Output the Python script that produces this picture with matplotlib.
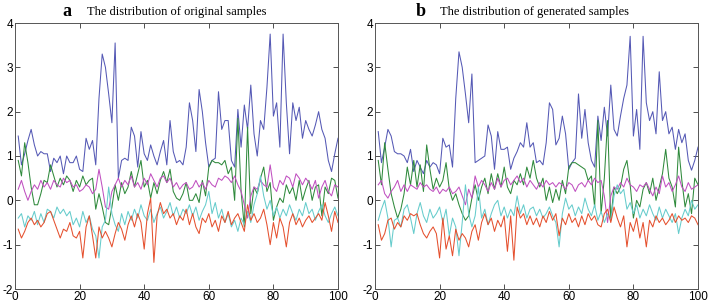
import matplotlib
matplotlib.use("Agg")
import matplotlib.pyplot as plt
import numpy as np

plt.rcParams['axes.unicode_minus'] = False

# x positions (sample index)
x = np.arange(1, 101)

# ---- panel a: original samples ----
blue_a = [1.45, 0.8, 1.05, 1.35, 1.6, 1.25, 1.0, 1.1, 1.05, 1.05,
          0.65, 0.95, 0.85, 1.0, 0.6, 1.0, 0.85, 0.85, 1.0, 0.7,
          0.65, 1.4, 1.15, 1.35, 0.8, 2.3, 3.3, 3.0, 2.4, 1.75,
          3.55, 0.5, 0.9, 0.95, 0.9, 1.65, 1.45, 0.75, 1.55, 1.05,
          0.9, 1.25, 1.0, 0.8, 1.1, 1.35, 0.8, 1.8, 1.1, 0.85,
          0.9, 0.8, 1.2, 2.2, 1.8, 1.1, 2.5, 2.0, 1.3, 0.75,
          0.9, 0.95, 2.45, 1.6, 1.8, 1.8, 0.9, 0.75, 2.05, 1.2,
          2.15, 1.6, 2.6, 1.5, 1.0, 1.8, 1.6, 2.55, 3.75, 1.9,
          2.2, 1.2, 3.75, 2.2, 1.05, 2.2, 1.8, 2.1, 1.4, 1.8,
          1.6, 1.45, 1.7, 2.0, 1.6, 1.4, 0.9, 0.65, 1.05, 1.4]
green_a = [0.9, 0.55, 1.3, 0.85, 0.3, -0.1, -0.1, 0.15, 0.45, 0.4,
           0.8, 0.55, 0.3, 0.5, 0.35, 0.55, 0.45, 0.2, 0.45, 0.3,
           0.55, 0.35, 0.45, 0.5, -0.2, 0.15, -0.15, -0.5, -0.55, -0.15,
           0.35, 0.0, 0.4, 0.15, 0.3, 0.65, 0.3, 0.6, 0.9, 0.3,
           0.45, 0.05, 0.4, 0.15, 0.45, 0.65, 0.4, 0.7, 0.2, 0.05,
           0.0, 0.15, 0.4, 0.0, 0.0, 0.15, -0.05, 0.45, 0.1, 0.75,
           0.9, 0.85, 0.85, 0.8, 0.9, 0.6, 0.75, 0.0, 1.85, 0.2,
           -0.6, 1.65, -0.3, 0.3, 0.15, 0.5, 0.75, 0.2, 0.4, -0.45,
           -0.15, 0.05, -0.05, 0.35, 0.15, 0.3, 0.0, 0.45, 0.0, 0.25,
           0.45, 0.0, 0.3, 0.35, -0.35, 0.3, 0.15, 0.5, 0.45, 0.05]
magenta_a = [0.25, 0.45, 0.2, 0.0, 0.2, 0.35, 0.25, 0.45, 0.3, 0.4,
             0.25, 0.45, 0.35, 0.3, 0.5, 0.4, 0.45, 0.3, 0.35, 0.2,
             0.25, 0.35, 0.3, 0.15, 0.25, 0.7, 0.3, -0.15, -0.2, 0.2,
             0.35, 0.5, 0.3, 0.45, 0.35, 0.55, 0.3, 0.4, 0.25, 0.5,
             0.35, 0.6, 0.45, 0.3, 0.5, 0.55, 0.4, 0.5, 0.3, 0.4,
             0.25, 0.35, 0.4, 0.25, 0.3, 0.45, 0.3, 0.4, 0.25, 0.45,
             0.35, 0.3, 0.5, 0.45, 0.55, 0.5, 0.4, 0.55, 0.35, 0.2,
             -0.1, -0.4, 0.1, 0.3, 0.25, 0.45, 0.35, 0.3, 0.8, 0.3,
             0.2, 0.45, 0.35, 0.55, 0.5, 0.3, 0.6, 0.5, 0.35, 0.5,
             0.4, 0.25, 0.45, 0.05, 0.3, 0.45, 0.2, 0.1, 0.35, 0.3]
cyan_a = [-0.4, -0.3, -0.6, -0.35, -0.45, -0.25, -0.55, -0.3, -0.5, -0.2,
          -0.25, -0.4, -0.15, -0.3, -0.2, -0.35, -0.25, -0.55, -0.4, -0.6,
          -0.25, -0.5, -0.35, -0.65, -0.8, -1.3, -0.6, -0.45, 0.3, -0.3,
          -0.55, -0.7, -0.3, -0.55, -0.25, -0.45, -0.2, -0.4, -0.1, -0.35,
          -0.45, -0.2, -0.5, -0.3, -0.15, -0.4, -0.25, -0.05, -0.35, -0.15,
          -0.4, -0.2, -0.3, -0.1, -0.35, -0.15, -0.45, -0.25, -0.1, 0.2,
          -0.3, -0.05, -0.4, -0.2, -0.5, -0.3, -0.6, -0.45, -0.7, -0.4,
          -0.55, -0.25, -0.5, -0.1, 0.15, 0.55, 0.1, -0.2, 0.0, -0.35,
          -0.15, -0.4, -0.2, -0.35, -0.1, -0.3, -0.45, -0.2, -0.35, -0.05,
          -0.3, -0.2, -0.45, -0.25, -0.1, -0.35, -0.5, -0.3, -0.15, -0.35]
red_a = [-0.65, -0.85, -0.7, -0.5, -0.4, -0.55, -0.45, -0.6, -0.5, -0.3,
         -0.25, -0.45, -0.65, -0.85, -0.65, -0.7, -0.5, -0.8, -0.85, -0.7,
         -1.3, -0.6, -0.35, -0.8, -1.3, -0.6, -0.85, -0.7, -0.85, -1.05,
         -0.75, -0.5, -0.65, -0.9, -0.55, -0.35, -0.6, -0.3, -0.5, -1.1,
         -0.3, 0.05, -1.4, -0.35, -0.05, -0.3, -0.2, -0.4, -0.3, -0.55,
         -0.35, -0.45, -0.2, -0.55, -0.3, -0.6, -0.75, -0.4, -0.5, -0.3,
         -0.6, -0.45, -0.7, -0.35, -0.5, -0.25, -0.55, -0.4, -0.3, -0.5,
         -0.7, -0.1, -0.45, -0.3, -0.5, -0.4, -0.2, -0.55, -1.0, -0.5,
         -0.85, -0.4, -0.6, -1.05, -0.5, -0.3, -0.55, -0.4, -0.6, -0.45,
         -0.35, -0.5, -0.4, -0.3, -0.45, -0.05, -0.35, -0.7, -0.25, -0.5]

# ---- panel b: generated samples ----
blue_b = [1.55, 0.85, 1.2, 1.6, 1.45, 1.1, 1.05, 1.05, 1.0, 0.85,
          1.15, 0.65, 0.9, 0.75, 0.6, 0.9, 0.75, 0.85, 0.8, 0.6,
          1.4, 1.2, 1.25, 0.75, 2.3, 3.35, 3.0, 2.4, 1.75, 2.85,
          0.85, 0.9, 0.95, 1.0, 1.7, 1.45, 0.7, 1.55, 1.15, 1.15,
          1.2, 0.7, 0.95, 1.1, 1.3, 1.2, 1.75, 1.2, 1.3, 0.85,
          0.9, 0.8, 1.3, 2.2, 2.05, 1.25, 1.4, 1.9, 1.5, 0.7,
          0.85, 0.95, 2.4, 1.4, 2.05, 1.3, 0.9, 0.75, 1.9, 1.35,
          2.1, 1.45, 2.6, 1.6, 1.45, 1.9, 2.3, 2.6, 3.7, 1.45,
          2.05, 1.15, 3.7, 2.2, 1.8, 2.0, 1.5, 2.9, 1.8, 2.0,
          1.5, 1.65, 1.15, 1.6, 1.3, 1.5, 0.9, 0.68, 0.9, 1.2]
green_b = [0.9, 0.35, 1.3, 0.7, 0.15, -0.15, -0.4, -0.2, 0.15, 0.75,
           0.35, 0.9, 0.3, 0.8, 0.2, 1.25, 0.7, 0.25, 0.5, 0.3,
           0.45, 0.85, 0.25, 0.0, 0.15, -0.1, -0.3, -0.45, -0.35, 0.05,
           0.35, 0.0, 0.3, 0.5, 0.15, 0.6, 0.25, 0.6, 0.3, 0.75,
           0.3, 0.15, 0.45, 0.35, 0.6, 0.35, 0.75, 0.5, 0.9, 0.5,
           0.3, 0.5, 0.0, 0.3, -0.05, 0.25, 0.0, 0.45, 0.15, 0.75,
           0.85, 0.85, 0.8, 0.75, 0.7, 0.45, 0.55, -0.15, 1.8, -0.3,
           0.5, 1.8, -0.45, 0.3, 0.15, 0.3, 0.7, 0.9, 0.35, -0.4,
           0.0, -0.15, 0.25, 0.4, 0.15, 0.5, 0.0, 0.3, 0.6, 1.15,
           0.5, 0.3, -0.15, 1.2, 0.45, -0.15, 0.15, -0.3, 0.5, 0.35]
magenta_b = [0.35, 0.45, 0.15, 0.05, 0.2, 0.3, 0.45, 0.2, 0.35, 0.2,
             0.35, 0.3, 0.25, 0.4, 0.3, 0.35, 0.25, 0.2, 0.3, 0.15,
             0.25, 0.2, 0.3, 0.15, 0.2, 0.3, 0.1, -0.1, 0.25, 0.05,
             0.55, 0.3, 0.45, 0.35, 0.2, 0.4, 0.25, 0.5, 0.3, 0.45,
             0.5, 0.35, 0.45, 0.55, 0.4, 0.5, 0.3, 0.45, 0.35, 0.25,
             0.4, 0.3, 0.45, 0.35, 0.4, 0.3, 0.4, 0.35, 0.25, 0.4,
             0.35, 0.2, 0.35, 0.4, 0.3, 0.45, 0.35, 0.5, 0.4, 0.45,
             0.1, -0.5, 0.1, 0.3, 0.25, 0.4, 0.3, 0.5, 0.35, 0.3,
             0.2, 0.35, 0.3, 0.4, 0.25, 0.1, 0.3, 0.15, 0.55, 0.3,
             0.4, 0.2, 0.35, 0.55, 0.3, 0.2, 0.4, 0.25, 0.3, 0.35]
cyan_b = [-0.45, -0.2, 0.0, -0.4, -1.05, -0.45, -0.4, -0.6, -0.2, -0.1,
          -0.4, -0.75, -0.3, -0.05, -0.35, -0.5, -0.2, -0.4, -0.3, -0.15,
          -0.5, -0.2, -0.8, -0.4, -0.6, -1.25, -0.5, 0.35, -0.3, -0.6,
          -0.35, 0.3, -0.4, -0.2, -0.55, -0.3, -0.1, 0.0, -0.35, -0.15,
          -0.4, -0.2, -0.35, 0.1, -0.3, -0.1, -0.4, -0.2, -0.15, -0.35,
          -0.2, -0.4, -0.3, -0.15, -0.35, -0.5, -1.05, -0.3, 0.05, -0.2,
          -0.1, -0.35, -0.15, -0.3, 0.05, -0.2, -0.35, -0.1, -0.45, -0.25,
          -0.5, -0.3, -0.45, 0.1, 0.35, 0.15, 0.25, -0.2, -0.05, -0.3,
          -0.1, -0.4, -0.2, -0.35, -0.1, -0.3, -0.45, -0.15, -0.4, -0.2,
          -0.35, -0.5, -0.3, -0.75, -0.4, -0.2, -0.35, 0.0, -0.2, -0.1]
red_b = [-0.55, -0.9, -0.75, -0.45, -0.4, -0.65, -0.5, -0.6, -0.35, -0.45,
         -0.3, -0.35, -0.3, -0.55, -0.75, -0.85, -0.7, -0.6, -0.75, -1.3,
         -0.4, -1.1, -0.8, -1.25, -0.65, -0.9, -0.75, -0.85, -1.05, -0.7,
         -0.55, -0.9, -0.5, -0.3, -0.55, -0.4, -0.7, -0.45, -0.6, -0.35,
         -1.15, -0.35, -1.35, -0.15, -0.4, -0.3, -0.55, -0.35, -0.55, -0.4,
         -0.6, -0.35, -0.5, -0.25, -0.45, -0.3, -0.8, -0.4, -0.55, -0.3,
         -0.5, -0.4, -0.6, -0.35, -0.55, -0.3, -0.45, -0.35, -0.55, -0.6,
         -0.3, -0.2, -0.5, -0.15, -0.4, -0.6, -0.35, -1.05, -0.5, -0.7,
         -0.4, -0.85, -0.5, -1.05, -0.45, -0.6, -0.35, -0.5, -0.4, -0.55,
         -0.45, -0.3, -0.5, -0.35, -0.45, -0.4, -0.5, -0.35, -0.4, -0.55]

colors = ['#5559b5', '#2f8a3c', '#c050c0', '#66cccc', '#e5502e']

panels = [
    ('a', 'The distribution of original samples',
     [blue_a, green_a, magenta_a, cyan_a, red_a]),
    ('b', 'The distribution of generated samples',
     [blue_b, green_b, magenta_b, cyan_b, red_b]),
]

W, H = 709, 304
fig = plt.figure(figsize=(W / 100, H / 100), dpi=100)

lefts = [15, 375]
letter_x = [67, 421]
title_x = [87, 440]
for (letter, title, series), left, lx, tx in zip(panels, lefts, letter_x, title_x):
    ax = fig.add_axes([left / W, (H - 289) / H, 323 / W, 266 / H])
    for s, c in zip(series, colors):
        ax.plot(x, s, color=c, lw=0.75)
    ax.set_xlim(0, 100)
    ax.set_ylim(-2, 4)
    ax.set_xticks([0, 20, 40, 60, 80, 100])
    ax.set_yticks([-2, -1, 0, 1, 2, 3, 4])
    ax.tick_params(direction='in', length=3.5, width=0.6, top=True, right=True,
                   labelsize=8.5, pad=1.5, colors='#333333', labelcolor='black')
    for lab in ax.get_xticklabels() + ax.get_yticklabels():
        lab.set_family('Liberation Sans')
    for sp in ax.spines.values():
        sp.set_linewidth(0.7)
        sp.set_color('#555555')
    # panel letter + title
    fig.text(lx / W, (H - 12) / H, letter, fontsize=13, fontweight='bold',
             family='Liberation Serif', ha='center', va='center')
    fig.text(tx / W, (H - 12) / H, title, fontsize=9,
             family='Liberation Serif', ha='left', va='center')

fig.savefig('out.png', dpi=100)
